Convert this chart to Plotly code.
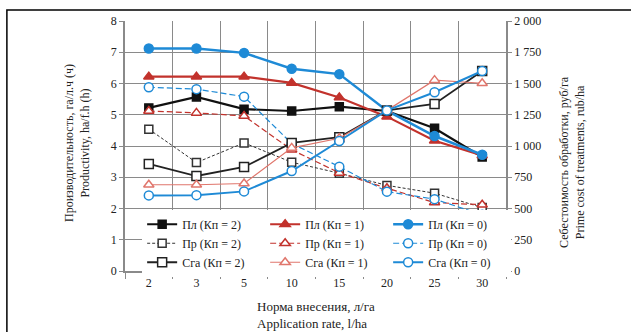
import plotly.graph_objects as go

rates = ["2", "3", "5", "10", "15", "20", "25", "30"]

# Productivity (left axis, ha/f.h)
pl_k2 = [5.22, 5.57, 5.18, 5.12, 5.26, 5.12, 4.57, 3.65]
pl_k1 = [6.22, 6.22, 6.22, 6.02, 5.55, 4.94, 4.17, 3.70]
pl_k0 = [7.12, 7.12, 6.98, 6.47, 6.30, 5.13, 4.32, 3.72]
pr_k2 = [4.54, 3.47, 4.10, 3.48, 3.13, 2.74, 2.49, 2.03]
pr_k1 = [5.12, 5.06, 4.96, 3.88, 3.14, 2.65, 2.19, 2.12]
pr_k0 = [5.88, 5.82, 5.58, 4.08, 3.34, 2.54, 2.30, 1.80]
# Prime cost (right axis, rub/ha)
cost_k2 = [857, 760, 832, 1025, 1070, 1285, 1337, 1600]
cost_k1 = [690, 690, 700, 985, 1062, 1285, 1527, 1502]
cost_k0 = [605, 607, 637, 800, 1040, 1285, 1430, 1600]

left_ticks = [0, 1, 2, 3, 4, 5, 6, 7, 8]
right_ticks = [0, 250, 500, 750, 1000, 1250, 1500, 1750, 2000]
right_ticktext = ["0", "250", "500", "750", "1 000", "1 250", "1 500", "1 750", "2 000"]

BLACK = "#111111"
RED = "#c2322c"
RED_L = "#e0766c"
BLUE = "#1e8ad6"
TXT = "#222222"

fig = go.Figure()

def add(name, y, color, width, dash, symbol, filled, axis, size=8):
    fig.add_trace(go.Scatter(
        x=rates, y=y, name=name, mode="lines+markers", yaxis=axis,
        line=dict(color=color, width=width, dash=dash),
        marker=dict(symbol=symbol, size=size,
                    color=color if filled else "white",
                    line=dict(color=color, width=1.5)),
    ))

add("Пл (Кп = 2)", pl_k2, BLACK, 2.2, "solid", "square", True, "y")
add("Пл (Кп = 1)", pl_k1, RED, 2.2, "solid", "triangle-up", True, "y", 9)
add("Пл (Кп = 0)", pl_k0, BLUE, 2.5, "solid", "circle", True, "y", 9)
add("Пр (Кп = 2)", pr_k2, "#333333", 1, "3px,2px", "square", False, "y")
add("Пр (Кп = 1)", pr_k1, RED, 1.2, "6px,3px", "triangle-up", False, "y", 9)
add("Пр (Кп = 0)", pr_k0, BLUE, 1.2, "6px,3px", "circle", False, "y", 9)
add("Сга (Кп = 2)", cost_k2, "#222222", 1.8, "solid", "square", False, "y2", 9)
add("Сга (Кп = 1)", cost_k1, RED_L, 1.2, "solid", "triangle-up", False, "y2", 9)
add("Сга (Кп = 0)", cost_k0, BLUE, 2, "solid", "circle", False, "y2", 9)

FONT = "Liberation Serif, Times New Roman, serif"
GRID = "#8a8a8a"

fig.update_layout(
    width=631, height=332,
    margin=dict(l=125, r=125, t=21, b=61),
    paper_bgcolor="white", plot_bgcolor="white",
    font=dict(family=FONT, size=12, color=TXT),
    showlegend=True,
    legend=dict(orientation="h", x=0.045, y=0.245, xanchor="left", yanchor="top",
                bgcolor="white", borderwidth=0, entrywidth=78,
                font=dict(family=FONT, size=12, color=TXT),
                itemwidth=30, tracegroupgap=0),
    xaxis=dict(type="category", range=[-0.5, 7.5], tickson="boundaries",
               showgrid=True, gridcolor=GRID, gridwidth=1,
               showline=True, linecolor=GRID, linewidth=1.5,
               ticks="outside", ticklen=6, tickcolor=GRID,
               tickfont=dict(family=FONT, size=12, color=TXT),
               zeroline=False),
    yaxis=dict(range=[0, 8], tickvals=left_ticks, showgrid=True, gridcolor=GRID,
               gridwidth=1, showline=True, linecolor=GRID, linewidth=1.5,
               ticks="outside", ticklen=4, tickcolor=GRID, zeroline=False,
               tickfont=dict(family=FONT, size=12, color=TXT)),
    yaxis2=dict(range=[0, 2000], tickvals=right_ticks, ticktext=right_ticktext,
                overlaying="y", side="right", showgrid=False, zeroline=False,
                showline=True, linecolor=GRID, linewidth=1.5,
                ticks="outside", ticklen=4, tickcolor=GRID,
                tickfont=dict(family=FONT, size=12, color=TXT)),
)

fig.add_annotation(
    text="Производительность, га/л.ч (ч)<br>Productivity, ha/f.h (h)",
    xref="paper", yref="paper", x=-0.126, y=0.512, xanchor="center", yanchor="middle",
    textangle=-90, showarrow=False, font=dict(family=FONT, size=12, color=TXT))
fig.add_annotation(
    text="Себестоимость обработки, руб/га<br>Prime cost of treatments, rub/ha",
    xref="paper", yref="paper", x=1.173, y=0.436, xanchor="center", yanchor="middle",
    textangle=-90, showarrow=False, font=dict(family=FONT, size=12, color=TXT))
fig.add_annotation(
    text="Норма внесения, л/га<br>Application rate, l/ha",
    xref="paper", yref="paper", x=0.5, y=-0.105, xanchor="center", yanchor="top",
    align="left", showarrow=False, font=dict(family=FONT, size=13, color=TXT))

fig.add_shape(type="rect", xref="paper", yref="paper",
              x0=-0.31, x1=1.35, y0=-0.3, y1=1.044,
              line=dict(color="black", width=1.5), fillcolor="rgba(0,0,0,0)")

fig.write_html("out.html", config={"displayModeBar": False})

# remove default body margin so the figure sits at the page origin
with open("out.html", "r", encoding="utf-8") as f:
    html = f.read()
html = html.replace("<head>", "<head><style>html,body{margin:0;padding:0;}</style>", 1)
with open("out.html", "w", encoding="utf-8") as f:
    f.write(html)
